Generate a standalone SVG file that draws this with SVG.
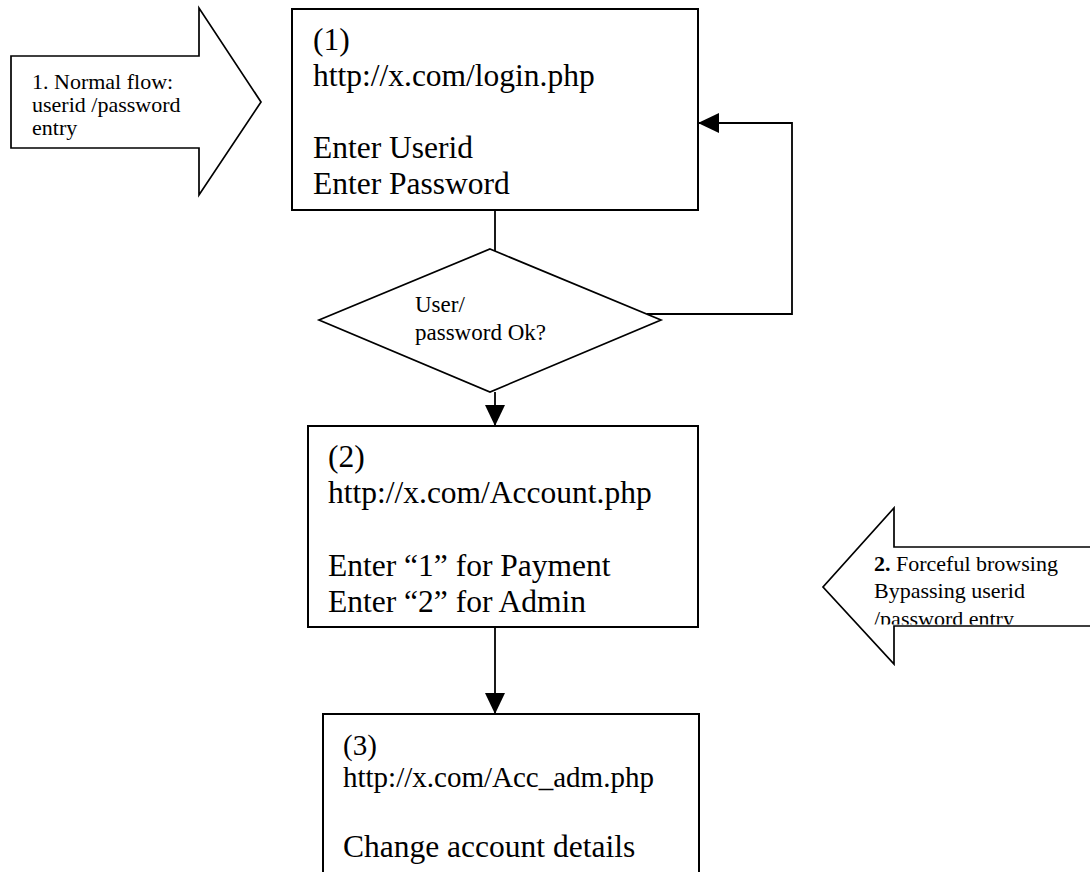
<svg xmlns="http://www.w3.org/2000/svg" width="1090" height="872" viewBox="0 0 1090 872">
<style>
  .shape { fill: #ffffff; stroke: #000000; stroke-width: 2; }
  .thin { fill: #ffffff; stroke: #000000; stroke-width: 1.7; }
  .line { fill: none; stroke: #000000; stroke-width: 1.8; }
  text { font-family: "Liberation Serif", "Times New Roman", serif; fill: #000000; }
  .big { font-size: 31.5px; }
  .mid { font-size: 29px; }
  .small { font-size: 22px; }
  .dia { font-size: 23px; }
</style>
<defs>
  <marker id="ah" markerUnits="userSpaceOnUse" markerWidth="21" markerHeight="20" refX="21" refY="10" orient="auto">
    <path d="M0,0 L21,10 L0,20 Z" fill="#000000"/>
  </marker>
  <clipPath id="clip2">
    <rect x="870" y="548" width="220" height="76.5"/>
  </clipPath>
</defs>

<g id="arrow-normal">
  <polygon class="thin" points="11,56 199,56 199,8 261,102 199,195 199,148 11,148"/>
  <text class="small" x="32" y="89">1. Normal flow:</text>
  <text class="small" x="32" y="112">userid /password</text>
  <text class="small" x="32" y="135">entry</text>
</g>

<g id="node-login">
  <rect class="shape" x="292" y="9" width="406" height="201"/>
  <text class="big" x="313" y="50">(1)</text>
  <text class="big" x="313" y="86">http://x.com/login.php</text>
  <text class="big" x="313" y="158">Enter Userid</text>
  <text class="big" x="313" y="194">Enter Password</text>
</g>

<g id="decision">
  <polygon class="thin" points="490,249 661,320 490,392 319,320"/>
  <text class="dia" x="415" y="312">User/</text>
  <text class="dia" x="415" y="340">password Ok?</text>
</g>

<g id="node-account">
  <rect class="shape" x="308" y="426" width="390" height="201"/>
  <text class="big" x="328" y="467">(2)</text>
  <text class="big" x="328" y="503">http://x.com/Account.php</text>
  <text class="big" x="328" y="576">Enter “1” for Payment</text>
  <text class="big" x="328" y="612">Enter “2” for Admin</text>
</g>

<g id="node-admin">
  <rect class="shape" x="323" y="714" width="376" height="170"/>
  <text class="mid" x="343" y="755">(3)</text>
  <text class="mid" x="343" y="787">http://x.com/Acc_adm.php</text>
  <text class="big" x="343" y="857">Change account details</text>
</g>

<g id="arrow-forceful">
  <polygon class="thin" points="1100,547 894,547 894,508 823,587 894,664 894,626 1100,626"/>
  <g clip-path="url(#clip2)">
    <text class="small" x="874" y="571"><tspan font-weight="bold">2.</tspan> Forceful browsing</text>
    <text class="small" x="874" y="597.5">Bypassing userid</text>
    <text class="small" x="874" y="625.5">/password entry</text>
  </g>
</g>

<g id="connectors">
  <line class="line" x1="495" y1="210" x2="495" y2="251"/>
  <line class="line" x1="495" y1="392" x2="495" y2="426" marker-end="url(#ah)"/>
  <line class="line" x1="495" y1="627" x2="495" y2="714" marker-end="url(#ah)"/>
  <polyline class="line" points="647,314 792,314 792,123 698,123" marker-end="url(#ah)"/>
</g>
</svg>
